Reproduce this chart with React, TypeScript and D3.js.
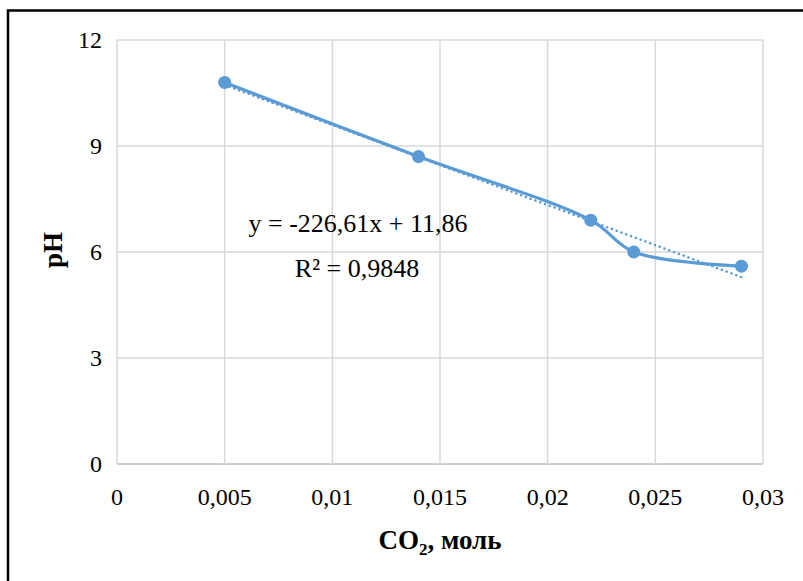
import React from 'react'
import * as d3 from 'd3'

// data
const co2 = [0.005, 0.014, 0.022, 0.024, 0.029]
const ph = [10.8, 8.7, 6.9, 6.0, 5.6]
const xTicks = [0, 0.005, 0.01, 0.015, 0.02, 0.025, 0.03]
const yTicks = [0, 3, 6, 9, 12]
const trendSlope = -226.61
const trendIntercept = 11.86
const eqLines = ['y = -226,61x + 11,86', 'R² = 0,9848']

const W = 803
const H = 581
const left = 117
const right = 763
const top = 40
const bottom = 464
const blue = '#5B9BD5'
const grid = '#D9D9D9'
const font = '"Liberation Serif", "Times New Roman", serif'

const fmt = (d: number) => String(d).replace('.', ',')

const App = () => {
  const x = d3.scaleLinear().domain([0, 0.03]).range([left, right])
  const y = d3.scaleLinear().domain([0, 12]).range([bottom, top])

  const pts: [number, number][] = co2.map((c, i) => [c, ph[i]])
  const line = d3.line<[number, number]>()
    .x(d => x(d[0]))
    .y(d => y(d[1]))
    .curve(d3.curveCatmullRom.alpha(0.5))

  const xs = [co2[0], co2[co2.length - 1]]
  const trend = d3.line<number>()
    .x(d => x(d))
    .y(d => y(trendSlope * d + trendIntercept))

  return (
    <svg width={W} height={H} style={{ position: 'absolute', left: 0, top: 0, background: '#fff' }}>
      <rect x={8} y={10.5} width={W + 20} height={H + 20} fill='#fff' stroke='#000' strokeWidth={2.5} />

      {/* grid */}
      {yTicks.map(t => (
        <line key={'gy' + t} x1={left} x2={right} y1={y(t)} y2={y(t)}
          stroke={t === 0 ? '#BFBFBF' : grid} strokeWidth={1.5} />
      ))}
      {xTicks.map(t => (
        <line key={'gx' + t} x1={x(t)} x2={x(t)} y1={top} y2={bottom}
          stroke={grid} strokeWidth={1.5} />
      ))}

      {/* tick labels */}
      {yTicks.map(t => (
        <text key={'ty' + t} x={left - 15} y={y(t)} dy='0.35em' textAnchor='end'
          fontFamily={font} fontSize={24} fill='#000'>{t}</text>
      ))}
      {xTicks.map(t => (
        <text key={'tx' + t} x={x(t)} y={505} textAnchor='middle'
          fontFamily={font} fontSize={24} fill='#000'>{fmt(t)}</text>
      ))}

      {/* trend line */}
      <path d={trend(xs) || ''} fill='none' stroke={blue} strokeWidth={2.5}
        strokeDasharray='0.1 5' strokeLinecap='round' />

      {/* series */}
      <path d={line(pts) || ''} fill='none' stroke={blue} strokeWidth={3.2} strokeLinecap='round' />
      {pts.map((d, i) => (
        <circle key={i} cx={x(d[0])} cy={y(d[1])} r={6.5} fill={blue} />
      ))}

      {/* equation */}
      <text x={358} y={232} textAnchor='middle' fontFamily={font} fontSize={26} fill='#000'>{eqLines[0]}</text>
      <text x={357} y={277} textAnchor='middle' fontFamily={font} fontSize={26} fill='#000'>{eqLines[1]}</text>

      {/* axis titles */}
      <text x={440} y={549} textAnchor='middle' fontFamily={font} fontSize={27} fontWeight='bold' fill='#000'>
        CO<tspan fontSize={17} dy={6}>2</tspan><tspan dy={-6}>, моль</tspan>
      </text>
      <text transform={`translate(62,250) rotate(-90)`} textAnchor='middle' fontFamily={font}
        fontSize={27} fontWeight='bold' fill='#000'>pH</text>
    </svg>
  )
}

export default App
